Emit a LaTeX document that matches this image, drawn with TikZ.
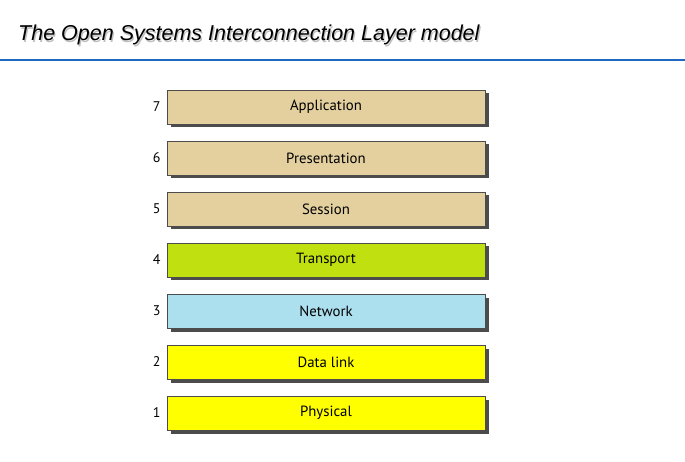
\documentclass[tikz,border=0pt]{standalone}
\usepackage{fontspec}
\setmainfont{Liberation Sans}
\newfontfamily\boxfont{PT Sans}
\usetikzlibrary{positioning, shadows}

\definecolor{tan}{HTML}{E3D09E}
\definecolor{lime}{HTML}{C0E010}
\definecolor{sky}{HTML}{ADE0EE}
\definecolor{yel}{HTML}{FFFF00}
\definecolor{rule}{HTML}{1F68C0}

\begin{document}
\begin{tikzpicture}[x=1pt, y=-1pt, every node/.style={inner sep=0pt},
  layer/.style={draw=black!70, line width=0.6pt, minimum width=318pt, minimum height=34pt,
    font=\boxfont\fontsize{14.8}{16}\selectfont,
    drop shadow={shadow xshift=3.5pt, shadow yshift=-3.5pt, fill=black!70, opacity=1}},
  num/.style={font=\boxfont\fontsize{14}{16}\selectfont},
  heading/.style={anchor=base west, font=\itshape\fontsize{21.5}{24}\selectfont}]
\useasboundingbox (0,0) rectangle (685,462);

\node(tshadow)[heading, text=black!25] at (19.2,42.2) {The Open Systems Interconnection Layer model};
\node(title)[heading] at (18,41) {The Open Systems Interconnection Layer model};
\draw[rule, line width=2pt] (0,60) -- (685,60);

\node(l7)[layer, fill=tan] at (326,107) {Application};
\node(l6)[layer, fill=tan] at (326,158) {Presentation};
\node(l5)[layer, fill=tan] at (326,209) {Session};
\node(l4)[layer, fill=lime] at (326,260) {Transport};
\node(l3)[layer, fill=sky] at (326,311) {Network};
\node(l2)[layer, fill=yel] at (326,362) {Data link};
\node(l1)[layer, fill=yel] at (326,413) {Physical};

\node(n7)[num, left=6pt of l7] {7};
\node(n6)[num, left=6pt of l6] {6};
\node(n5)[num, left=6pt of l5] {5};
\node(n4)[num, left=6pt of l4] {4};
\node(n3)[num, left=6pt of l3] {3};
\node(n2)[num, left=6pt of l2] {2};
\node(n1)[num, left=6pt of l1] {1};
\end{tikzpicture}
\end{document}
